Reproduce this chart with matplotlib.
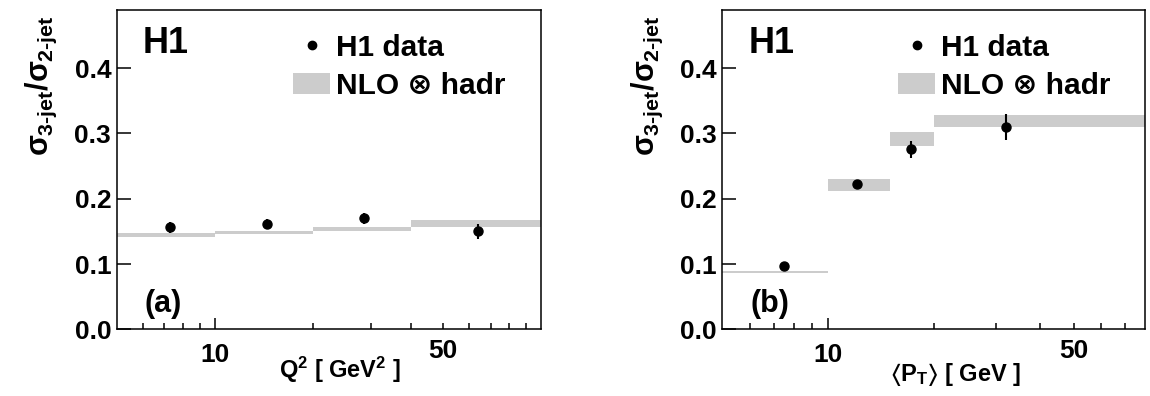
import numpy as np
import matplotlib
matplotlib.use("Agg")
from matplotlib import pyplot as plt
from matplotlib.lines import Line2D
from matplotlib.patches import Patch
from matplotlib.ticker import FixedLocator, FormatStrFormatter

plt.rcParams['font.family'] = ['Liberation Sans', 'DejaVu Sans']
plt.rcParams['font.weight'] = 'bold'
plt.rcParams['axes.labelweight'] = 'bold'
plt.rcParams['mathtext.fontset'] = 'custom'
plt.rcParams['mathtext.rm'] = 'Liberation Sans:bold'
plt.rcParams['mathtext.it'] = 'Liberation Sans'
plt.rcParams['mathtext.bf'] = 'Liberation Sans:bold'
plt.rcParams['mathtext.sf'] = 'Liberation Sans:bold'
plt.rcParams['mathtext.fallback'] = 'stixsans'
plt.rcParams['mathtext.default'] = 'rm'

# (a) 3-jet / 2-jet ratio vs Q^2
q2_x = [7.3, 14.4, 28.6, 64.0]
q2_y = [0.156, 0.161, 0.170, 0.150]
q2_err = [0.009, 0.008, 0.008, 0.012]
q2_edges = [5, 10, 20, 40, 100]
q2_nlo = [0.145, 0.148, 0.154, 0.162]
q2_nlo_err = [0.003, 0.0025, 0.0033, 0.005]

# (b) 3-jet / 2-jet ratio vs <P_T>
pt_x = [7.5, 12.1, 17.2, 32.2]
pt_y = [0.097, 0.222, 0.276, 0.310]
pt_err = [0.004, 0.005, 0.013, 0.020]
pt_edges = [5, 10, 15, 20, 80]
pt_nlo = [0.088, 0.221, 0.291, 0.319]
pt_nlo_err = [0.0013, 0.009, 0.0107, 0.009]

fig = plt.figure(figsize=(11.5, 3.96), dpi=100)
ax1 = fig.add_axes([0.1015, 0.1684, 0.369, 0.8063])
ax2 = fig.add_axes([0.628, 0.1684, 0.368, 0.8063])

# sigma in the lighter font, raised slash like the ROOT #sigma_{}/#sigma_{} label
ylab = r'$\mathit{\sigma}_{\text{3-jet}}\mathit{/}\mathit{\sigma}_{\text{2-jet}}$'


def panel(ax, x, y, yerr, edges, nlo, nlo_err, xmax, tag, xlab, xlab_pos):
    edges = np.array(edges)
    nlo = np.array(nlo)
    nlo_err = np.array(nlo_err)
    ax.bar(edges[:-1], 2 * nlo_err, width=np.diff(edges), bottom=nlo - nlo_err,
           align='edge', color='#cccccc', lw=0, zorder=1)
    ax.errorbar(x, y, yerr=yerr, fmt='o', color='k', ms=6.5, elinewidth=1.5,
                capsize=0, zorder=3)
    ax.set_xscale('log')
    ax.set_xlim(5, xmax)
    ax.set_ylim(0, 0.489)

    # ticks: long one at 10, short ones elsewhere, labels at 10 and 50
    ax.xaxis.set_major_locator(FixedLocator([10]))
    ax.xaxis.set_major_formatter(FormatStrFormatter('%d'))
    minors = [6, 7, 8, 9, 20, 30, 40, 50, 60, 70, 80, 90]
    minors = [m for m in minors if m < xmax]
    ax.set_xticks(minors, labels=['50' if m == 50 else '' for m in minors], minor=True)
    ax.set_yticks([0.0, 0.1, 0.2, 0.3, 0.4])
    ax.yaxis.set_major_formatter(FormatStrFormatter('%.1f'))
    ax.tick_params(axis='both', which='both', direction='in', top=False, right=False,
                   width=1.1, labelsize=19)
    ax.tick_params(axis='x', which='major', length=8, pad=10)
    ax.tick_params(axis='x', which='minor', length=4, pad=7)
    ax.tick_params(axis='y', which='major', length=10, pad=4)
    for s in ax.spines.values():
        s.set_linewidth(1.1)

    ax.set_ylabel(ylab, fontsize=22, loc='top')
    ax.yaxis.set_label_coords(-0.135, 0.984)
    ax.set_xlabel(xlab, fontsize=17)
    ax.xaxis.set_label_coords(xlab_pos[0], xlab_pos[1])

    ax.text(0.062, 0.865, 'H1', transform=ax.transAxes, fontsize=26,
            fontweight='bold', va='baseline')
    ax.text(0.066, 0.054, tag, transform=ax.transAxes, fontsize=22,
            fontweight='bold', va='baseline')

    handles = [Line2D([], [], marker='o', ls='none', color='k', ms=6),
               Patch(facecolor='#cccccc', edgecolor='none')]
    ax.legend(handles, ['H1 data', 'NLO ⊗ hadr'], loc='upper left',
              bbox_to_anchor=(0.4155, 0.925), frameon=False, fontsize=21.5,
              handlelength=1.24, handleheight=0.74, handletextpad=0.2,
              borderpad=0, borderaxespad=0, labelspacing=0.33)


panel(ax1, q2_x, q2_y, q2_err, q2_edges, q2_nlo, q2_nlo_err, 100, '(a)',
      r'Q$^{2}$ [ GeV$^{2}$ ]', (0.526, -0.08))
panel(ax2, pt_x, pt_y, pt_err, pt_edges, pt_nlo, pt_nlo_err, 80, '(b)',
      r'$\langle$P$_{T}$$\rangle$ [ GeV ]', (0.552, -0.10))

fig.savefig('out.png', dpi=100)
